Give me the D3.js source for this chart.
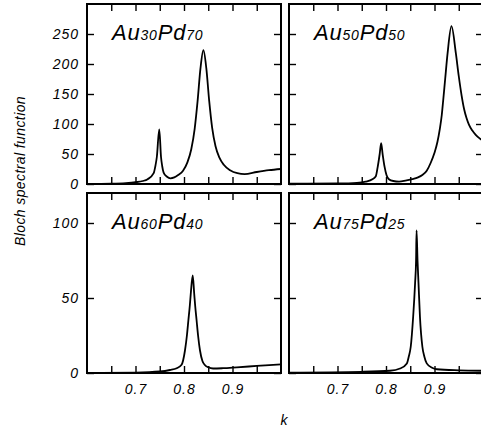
<!DOCTYPE html>
<html>
<head>
<meta charset="utf-8">
<script src="https://cdn.jsdelivr.net/npm/d3@7"></script>
<style>
    body { margin: 0; background: #fff; }
    svg text { font-family: "Liberation Sans", Arial, Helvetica, sans-serif; font-style: italic; fill: #000; }
</style>
</head>
<body>
<div id="chart"></div>
<script>
// Au30Pd70
var kAu30 = [0.60, 0.65, 0.68, 0.70, 0.715, 0.725, 0.7375, 0.741, 0.744, 0.749, 0.7526, 0.755, 0.758, 0.765, 0.772, 0.780, 0.788, 0.798, 0.807, 0.815, 0.822, 0.828, 0.834, 0.840, 0.846, 0.852, 0.858, 0.865, 0.873, 0.882, 0.895, 0.910, 0.925, 0.950, 0.975, 1.0];
var vAu30 = [0, 0.5, 1.5, 3, 5, 8, 18, 30, 45, 91, 45, 30, 19, 12, 9.5, 11, 15, 22, 36, 58, 92, 138, 193, 223, 193, 138, 94, 63, 44, 32, 23, 18, 16.5, 20, 23, 25];

// Au50Pd50
var kAu50 = [0.60, 0.70, 0.74, 0.758, 0.772, 0.779, 0.783, 0.787, 0.790, 0.793, 0.797, 0.801, 0.806, 0.815, 0.827, 0.840, 0.854, 0.866, 0.875, 0.884, 0.892, 0.900, 0.906, 0.911, 0.915, 0.918, 0.922, 0.927, 0.935, 0.944, 0.950, 0.956, 0.961, 0.966, 0.971, 0.978, 0.985, 0.993, 1.0];
var vAu50 = [0.5, 1, 2, 4, 8, 13, 29, 50, 68, 50, 29, 15, 8, 5, 4, 5.5, 8, 11, 15, 22, 35, 52, 70, 92, 115, 140, 175, 218, 263, 218, 180, 147, 125, 110, 99, 89, 82, 76, 72];

// Au60Pd40
var kAu60 = [0.60, 0.70, 0.75, 0.771, 0.785, 0.795, 0.802, 0.806, 0.809, 0.812, 0.814, 0.818, 0.821, 0.823, 0.826, 0.829, 0.833, 0.838, 0.843, 0.850, 0.860, 0.880, 0.909, 0.950, 1.0];
var vAu60 = [0, 0.3, 1, 2, 3.2, 5.5, 15, 25, 35, 45, 53, 65, 53, 45, 35, 25, 15, 8, 5.3, 3.8, 3, 3.2, 3.8, 4.7, 5.8];

// Au75Pd25
var kAu75 = [0.60, 0.75, 0.808, 0.829, 0.843, 0.847, 0.851, 0.856, 0.860, 0.862, 0.863, 0.865, 0.867, 0.870, 0.875, 0.879, 0.884, 0.895, 0.905, 0.950, 1.0];
var vAu75 = [0.3, 0.8, 1.5, 3, 6.4, 11, 17.5, 37.5, 60, 75, 95, 75, 60, 37.5, 17.5, 11, 6.4, 3.5, 2.5, 1.8, 1.5];

// labels and ticks
var auContent = ["30", "50", "60", "75"];
var pdContent = ["70", "50", "40", "25"];
var yTicksTop = [0, 50, 100, 150, 200, 250];
var yTicksBottom = [0, 50, 100];
var xTicks = [0.65, 0.70, 0.75, 0.80, 0.85, 0.90, 0.95];
var xLabels = [0.7, 0.8, 0.9];

var spectra = {};

(function (self) {
    self.width = 481;
    self.height = 430;
    self.panelW = 194;
    self.panelH = 180;
    self.tick = 7;

    self.init = function (target) {
        var svg = d3.select(target).append("svg")
            .attr("width", self.width)
            .attr("height", self.height);
        svg.append("rect").attr("width", self.width).attr("height", self.height).attr("fill", "#fff");

        var panels = [
            { x0: 87, y0: 4, k: kAu30, v: vAu30, yMax: 300, yTicks: yTicksTop, left: true, bottom: false },
            { x0: 289, y0: 4, k: kAu50, v: vAu50, yMax: 300, yTicks: yTicksTop, left: false, bottom: false },
            { x0: 87, y0: 193, k: kAu60, v: vAu60, yMax: 120, yTicks: yTicksBottom, left: true, bottom: true },
            { x0: 289, y0: 193, k: kAu75, v: vAu75, yMax: 120, yTicks: yTicksBottom, left: false, bottom: true }
        ];

        panels.forEach(function (p, i) {
            self.drawPanel(svg, p, i);
        });

        // y title
        svg.append("text")
            .attr("transform", "translate(21,171) rotate(-90)")
            .attr("text-anchor", "middle")
            .attr("dominant-baseline", "middle")
            .style("font-size", "14px")
            .style("letter-spacing", "0.4px")
            .text("Bloch spectral function");

        // x title
        svg.append("text")
            .attr("x", 284)
            .attr("y", 425)
            .attr("text-anchor", "middle")
            .style("font-size", "14px")
            .text("k");
    };

    self.drawPanel = function (svg, p, i) {
        var x = d3.scaleLinear().domain([0.6, 1.0]).range([0, self.panelW]);
        var y = d3.scaleLinear().domain([0, p.yMax]).range([self.panelH, 0]);
        var g = svg.append("g").attr("transform", "translate(" + p.x0 + "," + p.y0 + ")");

        var clipId = "clip" + i;
        g.append("clipPath").attr("id", clipId)
            .append("rect").attr("width", self.panelW).attr("height", self.panelH);

        // axes, ticks point inward
        var left = d3.axisLeft(y).tickValues(p.yTicks).tickSizeInner(-self.tick).tickSizeOuter(0)
            .tickPadding(8).tickFormat(p.left ? d3.format("d") : "");
        var right = d3.axisRight(y).tickValues(p.yTicks).tickSizeInner(-self.tick).tickSizeOuter(0).tickFormat("");
        var top = d3.axisTop(x).tickValues(xTicks).tickSizeInner(-self.tick).tickSizeOuter(0).tickFormat("");
        var bottom = d3.axisBottom(x).tickValues(xTicks).tickSizeInner(-self.tick).tickSizeOuter(0)
            .tickPadding(11)
            .tickFormat(function (d) {
                if (!p.bottom) return "";
                return xLabels.some(function (l) { return Math.abs(l - d) < 1e-9; }) ? d3.format(".1f")(d) : "";
            });

        var axes = [
            g.append("g").call(left),
            g.append("g").attr("transform", "translate(" + self.panelW + ",0)").call(right),
            g.append("g").call(top),
            g.append("g").attr("transform", "translate(0," + self.panelH + ")").call(bottom)
        ];
        axes.forEach(function (a) {
            a.select(".domain").remove();
            a.selectAll(".tick line").attr("stroke", "#000").attr("stroke-width", 1.4);
            a.selectAll(".tick text")
                .attr("font-family", null)
                .attr("fill", "#000")
                .style("font-size", "14px")
                .style("letter-spacing", "1px");
        });

        // frame
        g.append("rect")
            .attr("width", self.panelW)
            .attr("height", self.panelH)
            .attr("fill", "none")
            .attr("stroke", "#000")
            .attr("stroke-width", 2);

        // curve
        var line = d3.line()
            .x(function (d, j) { return x(p.k[j]); })
            .y(function (d) { return y(d); })
            .curve(d3.curveMonotoneX);
        g.append("path")
            .attr("clip-path", "url(#" + clipId + ")")
            .attr("d", line(p.v))
            .attr("fill", "none")
            .attr("stroke", "#000")
            .attr("stroke-width", 1.8)
            .attr("stroke-linejoin", "round");

        // panel label with subscripts
        var label = g.append("text")
            .attr("x", 25)
            .attr("y", 36)
            .style("font-size", "22px")
            .style("letter-spacing", "0.8px");
        label.append("tspan").text("Au");
        label.append("tspan").style("font-size", "14px").text(auContent[i]);
        label.append("tspan").text("Pd");
        label.append("tspan").style("font-size", "14px").text(pdContent[i]);
    };
})(spectra);

spectra.init("#chart");
</script>
</body>
</html>
